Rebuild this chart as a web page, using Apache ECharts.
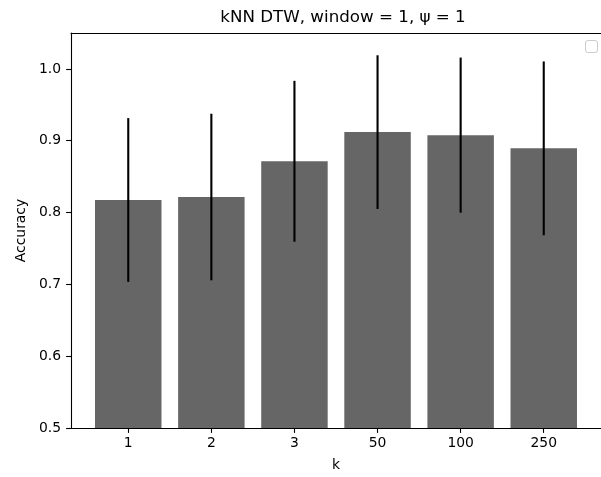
<!DOCTYPE html>
<html>
<head>
<meta charset="utf-8">
<script src="https://cdn.jsdelivr.net/npm/echarts@6/dist/echarts.min.js"></script>
<style>html,body{margin:0;padding:0;background:#fff;}#c{width:601px;height:477px;}</style>
</head>
<body>
<div id="c"></div>
<script>
const categories = ['1', '2', '3', '50', '100', '250'];
const accuracyMean = [0.8175, 0.8216, 0.8714, 0.912, 0.9078, 0.8894];
const accuracyStd = [0.114, 0.116, 0.112, 0.107, 0.108, 0.121];
const yTicks = [0.5, 0.6, 0.7, 0.8, 0.9, 1.0];

const positions = categories.map((c, i) => i);
const barData = categories.map((c, i) => [i, accuracyMean[i]]);
const errData = categories.map((c, i) => [i, accuracyMean[i] - accuracyStd[i], accuracyMean[i] + accuracyStd[i]]);

const font = 'DejaVu Sans';
const chart = echarts.init(document.getElementById('c'), null, {renderer: 'canvas'});
chart.setOption({
  animation: false,
  backgroundColor: '#fff',
  title: {
    text: 'kNN DTW, window = 1, \u03c8 = 1',
    left: 338, top: 4, textAlign: 'center',
    textStyle: {fontFamily: font, fontSize: 16.7, fontWeight: 'normal', color: '#000'}
  },
  grid: {left: 71, top: 33, width: 534, height: 398},
  xAxis: [{
    type: 'value', min: -0.689, max: 5.689,
    name: 'k', nameLocation: 'middle', nameGap: 30,
    nameTextStyle: {fontFamily: font, fontSize: 13.9, color: '#000'},
    axisLine: {show: true, onZero: false, lineStyle: {color: '#000', width: 1.1}},
    axisTick: {show: true, length: 4.9, lineStyle: {color: '#000', width: 1.1}, customValues: positions},
    axisLabel: {customValues: positions, margin: 8, fontFamily: font, fontSize: 13.9, color: '#000',
      formatter: v => categories[Math.round(v)]},
    splitLine: {show: false}
  }, {
    type: 'value', position: 'top', min: -0.689, max: 5.689,
    axisLine: {show: true, onZero: false, lineStyle: {color: '#000', width: 1.1}},
    axisTick: {show: false}, axisLabel: {show: false}, splitLine: {show: false}
  }],
  yAxis: {
    type: 'value', min: 0.5, max: 1.05,
    name: 'Accuracy', nameLocation: 'middle', nameGap: 42,
    nameTextStyle: {fontFamily: font, fontSize: 13.9, color: '#000'},
    axisLine: {show: true, onZero: false, lineStyle: {color: '#000', width: 1.1}},
    axisTick: {show: true, length: 4.9, lineStyle: {color: '#000', width: 1.1}, customValues: yTicks},
    axisLabel: {customValues: yTicks, margin: 10, fontFamily: font, fontSize: 13.9, color: '#000',
      formatter: v => v.toFixed(1)},
    splitLine: {show: false}
  },
  graphic: [{
    type: 'rect', shape: {x: 585.5, y: 40.5, width: 12, height: 12, r: 2.5},
    style: {fill: '#fff', stroke: '#cccccc', lineWidth: 1}, z: 100
  }],
  series: [{
    type: 'custom',
    clip: true,
    data: barData,
    renderItem: function (params, api) {
      const x = api.value(0), y = api.value(1);
      const p1 = api.coord([x - 0.4, y]);
      const p2 = api.coord([x + 0.4, 0]);
      const rect = echarts.graphic.clipRectByRect(
        {x: p1[0], y: p1[1], width: p2[0] - p1[0], height: p2[1] - p1[1]},
        {x: params.coordSys.x, y: params.coordSys.y, width: params.coordSys.width, height: params.coordSys.height});
      return rect ? {type: 'rect', shape: rect, style: {fill: '#666666'}} : null;
    }
  }, {
    type: 'custom',
    clip: true,
    data: errData,
    z: 5,
    renderItem: function (params, api) {
      const x = api.value(0);
      const lo = api.coord([x, api.value(1)]);
      const hi = api.coord([x, api.value(2)]);
      return {type: 'line', shape: {x1: lo[0], y1: lo[1], x2: hi[0], y2: hi[1]},
        style: {stroke: '#000', lineWidth: 2.1}};
    }
  }]
});
</script>
</body>
</html>
